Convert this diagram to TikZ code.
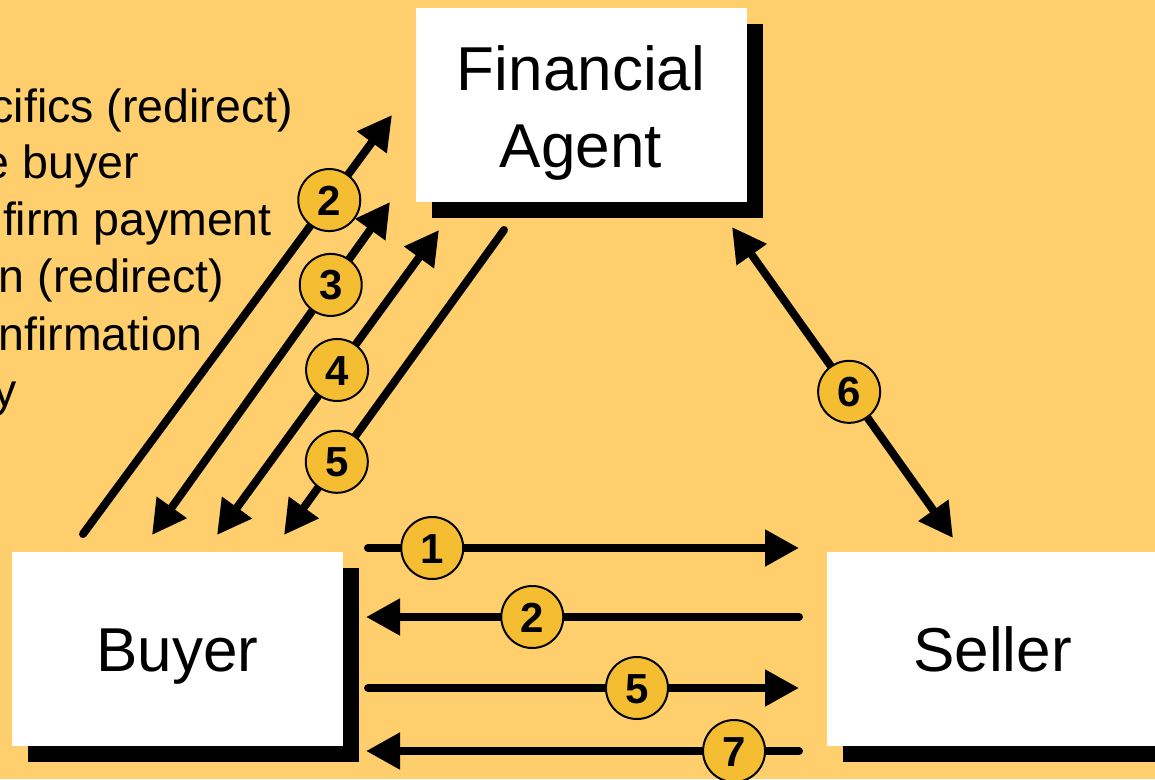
\documentclass[tikz,border=0pt]{standalone}
\usepackage{fontspec}
\setmainfont{Liberation Sans}
\usetikzlibrary{arrows.meta,shadows}
\definecolor{bg}{RGB}{255,207,110}
\definecolor{numfill}{RGB}{245,190,50}
\begin{document}
\begin{tikzpicture}[x=1pt,y=-1pt,
  box/.style={fill=white, minimum width=331pt, minimum height=194pt, inner sep=0pt,
    font=\fontsize{62}{77}\selectfont,
    drop shadow={shadow xshift=16pt, shadow yshift=-16pt, fill=black, opacity=1}},
  arr/.style={line width=8pt, line cap=round, -{Triangle[length=34pt,width=35pt]}},
  darr/.style={line width=8pt, line cap=round, {Triangle[length=34pt,width=35pt]}-{Triangle[length=34pt,width=35pt]}},
  num/.style={circle, fill=numfill, draw=black, line width=2pt, minimum size=62pt,
    inner sep=0pt, text height=30pt, text depth=0pt, font=\bfseries\fontsize{42}{42}\selectfont},
  side/.style={anchor=base east, inner sep=0pt, font=\fontsize{46.5}{56}\selectfont}]
\fill[bg] (0,0) rectangle (1155,779);
\useasboundingbox (0,0) rectangle (1155,779);

% left list (cut by the page edge, as in the reference)
\node[side] (t1) at (293,122) {cifics (redirect)};
\node[side] (t2) at (139,178) {e buyer};
\node[side] (t3) at (272,235) {firm payment};
\node[side] (t4) at (224,292) {n (redirect)};
\node[side] (t5) at (203,350) {nfirmation};
\node[side] (t6) at (17,406) {y};

% boxes
\node[box, align=center, text height=124pt, text depth=0pt] (fa) at (581,105) {Financial\\Agent};
\node[box, text height=44.4pt, text depth=0pt] (buyer) at (177.5,649) {Buyer};
\node[box, text height=44.4pt, text depth=0pt] (seller) at (992.5,649) {Seller};

% connector ends
\coordinate (d2s) at (83,534);  \coordinate (d2e) at (392,115);
\coordinate (d3s) at (390,202); \coordinate (d3e) at (152,535);
\coordinate (d4s) at (439,230); \coordinate (d4e) at (217,535);
\coordinate (d5s) at (504,230); \coordinate (d5e) at (284,535);
\coordinate (d6s) at (732,227); \coordinate (d6e) at (953,538);
\coordinate (h1s) at (368,548); \coordinate (h1e) at (799,548);
\coordinate (h2s) at (799,617); \coordinate (h2e) at (366,617);
\coordinate (h5s) at (368,688); \coordinate (h5e) at (799,688);
\coordinate (h7s) at (799,751); \coordinate (h7e) at (366,751);

% buyer <-> financial agent
\draw[arr]  (d2s) -- (d2e) node[num, pos=.797] {2};
\draw[darr] (d3s) -- (d3e) node[num, pos=.249] {3};
\draw[darr] (d4s) -- (d4e) node[num, pos=.459] {4};
\draw[arr]  (d5s) -- (d5e) node[num, pos=.76] {5};

% financial agent <-> seller
\draw[darr] (d6s) -- (d6e) node[num, pos=.53] {6};

% buyer <-> seller
\draw[arr] (h1s) -- (h1e) node[num, pos=.149] {1};
\draw[arr] (h2s) -- (h2e) node[num, pos=.616] {2};
\draw[arr] (h5s) -- (h5e) node[num, pos=.624] {5};
\draw[arr] (h7s) -- (h7e) node[num, pos=.15] {7};
\end{tikzpicture}
\end{document}
